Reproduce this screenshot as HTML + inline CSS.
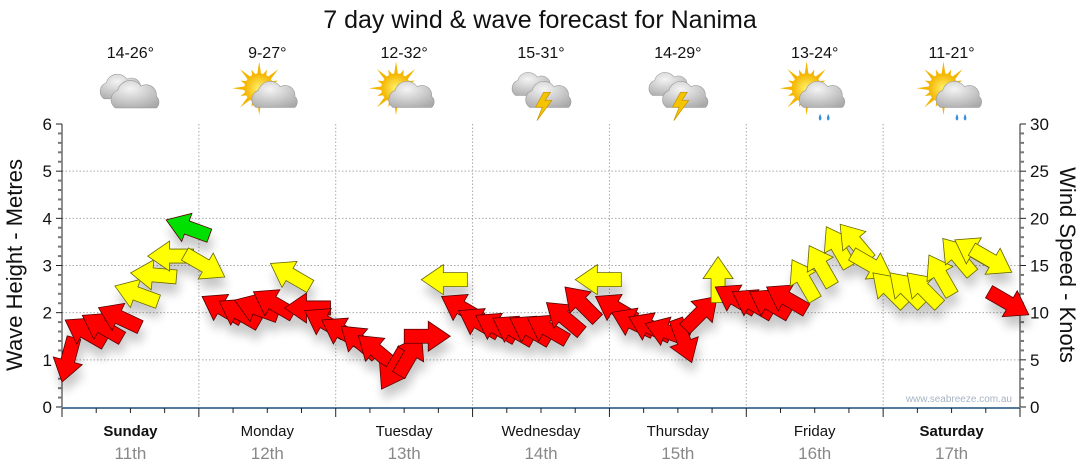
<!DOCTYPE html>
<html><head><meta charset="utf-8">
<style>
body{margin:0;background:#fff;}
svg{display:block;font-family:"Liberation Sans","DejaVu Sans",sans-serif;}
</style></head>
<body>
<svg id="chart" width="1080" height="475" viewBox="0 0 1080 475" xmlns="http://www.w3.org/2000/svg">
<defs>
<filter id="shadow" x="-50%" y="-50%" width="200%" height="200%">
<feGaussianBlur in="SourceAlpha" stdDeviation="5"/>
<feOffset dx="2" dy="10" result="b"/>
<feComponentTransfer><feFuncA type="linear" slope="0.22"/></feComponentTransfer>
<feMerge><feMergeNode/><feMergeNode in="SourceGraphic"/></feMerge>
</filter>
<radialGradient id="cloudg" cx="0.4" cy="0.3" r="0.8"><stop offset="0" stop-color="#f4f4f4"/><stop offset="1" stop-color="#a9a9a9"/></radialGradient>
<radialGradient id="sung" cx="0.5" cy="0.5" r="0.5"><stop offset="0" stop-color="#fff36a"/><stop offset="1" stop-color="#f5b400"/></radialGradient>
</defs>
<text x="540" y="28" text-anchor="middle" font-size="25" fill="#111">7 day wind &amp; wave forecast for Nanima</text>
<g id="grid"></g>
<g id="axes"></g>
<g id="icons"></g>
<g id="arrows" filter="url(#shadow)"></g>
<text x="1012" y="402" text-anchor="end" font-size="10" fill="#a8b4c4">www.seabreeze.com.au</text>
<text transform="translate(22,265) rotate(-90)" text-anchor="middle" font-size="22" fill="#111">Wave Height - Metres</text>
<text transform="translate(1060,265) rotate(90)" text-anchor="middle" font-size="22" fill="#111">Wind Speed - Knots</text>
</svg>
<script>
const days = ["Sunday","Monday","Tuesday","Wednesday","Thursday","Friday","Saturday"];
const dates = ["11th","12th","13th","14th","15th","16th","17th"];
const boldDays = [true,false,false,false,false,false,true];
const temps = ["14-26°","9-27°","12-32°","15-31°","14-29°","13-24°","11-21°"];
const weather = ["cloudy","partly","partly","storm","storm","showers","showers"];
const leftTicks = [0,1,2,3,4,5,6];
const rightTicks = [0,5,10,15,20,25,30];
// wind speed (knots), 3-hourly from Sunday 00:00
const windSpeed = [5,8,8.5,9.5,12,14,16,19,
  15,10.5,10,10.5,11,14,10.5,9,
  8,7,6,4,5.5,7.5,13.5,10.5,
  9,8.5,8.2,8.2,8.3,9.5,11,13.5,
  10.5,9,8.5,8,7,10,13.5,11.5,
  11,11,11.5,13.5,15,17,17.5,15,
  12.5,12.5,12.5,14,16,16.5,15.5,11];
// arrow heading (compass bearing the arrow points to)
const windDir = [195,300,300,295,290,275,270,290,
  120,300,300,290,300,300,270,300,
  300,310,310,210,30,90,270,300,
  300,300,300,300,300,310,315,270,
  300,295,295,290,160,45,0,300,
  300,300,300,330,330,330,320,120,
  315,315,315,330,320,300,120,120];

const NS="http://www.w3.org/2000/svg";
const X0=62,X1=1020,Y0=407,Y6=124;
const dayW=(X1-X0)/7;
const xT=h=>X0+h*dayW/24;
const yL=v=>Y0-(Y0-Y6)*v/6;
const yR=v=>Y0-(Y0-Y6)*v/30;
function mk(tag,attrs,parent){const e=document.createElementNS(NS,tag);for(const k in attrs)e.setAttribute(k,attrs[k]);parent.appendChild(e);return e;}
const grid=document.getElementById('grid'),axes=document.getElementById('axes'),icons=document.getElementById('icons'),arrows=document.getElementById('arrows');

for(let v=1;v<=5;v++){const l=mk('line',{x1:X0,x2:X1,y1:yL(v),y2:yL(v),stroke:'#aaa','stroke-dasharray':'1.5,2'},grid);}
for(let d=1;d<7;d++){const l=mk('line',{x1:xT(d*24),x2:xT(d*24),y1:Y6,y2:Y0,stroke:'#aaa','stroke-dasharray':'1.5,2'},grid);}

mk('line',{x1:X0,x2:X0,y1:Y6,y2:Y0,stroke:'#222'},axes);
for(let i=0;i<=30;i++){const y=Y0-(Y0-Y6)*i/30;mk('line',{x1:X0-(i%5?4:6),x2:X0,y1:y,y2:y,stroke:i%5?'#777':'#222','stroke-width':i%5?2:1},axes);}
leftTicks.forEach(v=>{const t=mk('text',{x:X0-10,y:yL(v)+6,'text-anchor':'end','font-size':17,fill:'#111'},axes);t.textContent=v;});
mk('line',{x1:X1,x2:X1,y1:Y6,y2:Y0,stroke:'#222'},axes);
for(let i=0;i<=30;i++){const y=yR(i);mk('line',{x1:X1,x2:X1+(i%5?4:6),y1:y,y2:y,stroke:i%5?'#777':'#222','stroke-width':i%5?2:1},axes);}
rightTicks.forEach(v=>{const t=mk('text',{x:X1+10,y:yR(v)+6,'font-size':17,fill:'#111'},axes);t.textContent=v;});
mk('line',{x1:X0,x2:X1,y1:Y0+1,y2:Y0+1,stroke:'#1a4f7a','stroke-width':1.5},axes);
for(let h=0;h<=168;h+=6){mk('line',{x1:xT(h),x2:xT(h),y1:Y0+1,y2:Y0+(h%24?6:10),stroke:'#222'},axes);}
days.forEach((d,i)=>{const cx=xT(i*24+12);
  const t=mk('text',{x:cx,y:436,'text-anchor':'middle','font-size':15,fill:'#111','font-weight':boldDays[i]?'bold':'normal'},axes);t.textContent=d;
  const t2=mk('text',{x:cx,y:459,'text-anchor':'middle','font-size':17,fill:'#888'},axes);t2.textContent=dates[i];
  const t3=mk('text',{x:cx,y:58,'text-anchor':'middle','font-size':16,fill:'#111'},icons);t3.textContent=temps[i];
  const outer=mk('g',{transform:`translate(${cx},95) scale(1.35)`},icons);
  const g=mk('g',{},outer);
  const cloud=(dx,dy,s)=>{const c=mk('g',{transform:`translate(${dx},${dy}) scale(${s})`},g);
    mk('path',{d:'M-16,8 a8,8 0 0 1 2,-14 a10,10 0 0 1 18,-3 a8,8 0 0 1 12,8 a6,6 0 0 1 0,9 z',fill:'url(#cloudg)',stroke:'#999','stroke-width':0.5},c);};
  if(weather[i]==='cloudy'){cloud(-6,-4,0.85);cloud(4,2,0.95);}
  else if(weather[i]==='storm'){cloud(-6,-6,0.8);cloud(6,2,0.9);
    mk('polygon',{points:'2,-2 -4,9 1,9 -3,19 8,4 3,4 7,-2',fill:'#f5c400',stroke:'#c69000','stroke-width':0.5},g);}
  else{
    const sx=-6,sy=-5;
    for(let k=0;k<16;k++){const a=k*Math.PI/8,r2=k%2?15:20;mk('polygon',{points:`${sx+Math.cos(a-0.15)*10},${sy+Math.sin(a-0.15)*10} ${sx+Math.cos(a)*r2},${sy+Math.sin(a)*r2} ${sx+Math.cos(a+0.15)*10},${sy+Math.sin(a+0.15)*10}`,fill:'#f3b500'},g);}
    mk('circle',{cx:sx,cy:sy,r:11,fill:'url(#sung)'},g);
    cloud(6,2,0.9);
    if(weather[i]==='showers'){mk('path',{d:'M4,14 q-2,4 0,5 q2,-1 0,-5 M10,14 q-2,4 0,5 q2,-1 0,-5',fill:'#3a8fd8'},g);}
  }
});

windSpeed.forEach((s,i)=>{
  const x=xT(i*3)+6,y=yR(s),ang=windDir[i]-90;
  const col=s>=18?'#00e000':(s>=12?'#ffff00':'#ff0000');
  const p=mk('polygon',{points:'23,0 1,-15 1,-7 -23,-7 -23,7 1,7 1,15',fill:col,stroke:s>=12&&s<18?'#666600':'#550000','stroke-width':0.8,transform:`translate(${x},${y}) rotate(${ang})`},arrows);
  
  
});
</script>
</body></html>
